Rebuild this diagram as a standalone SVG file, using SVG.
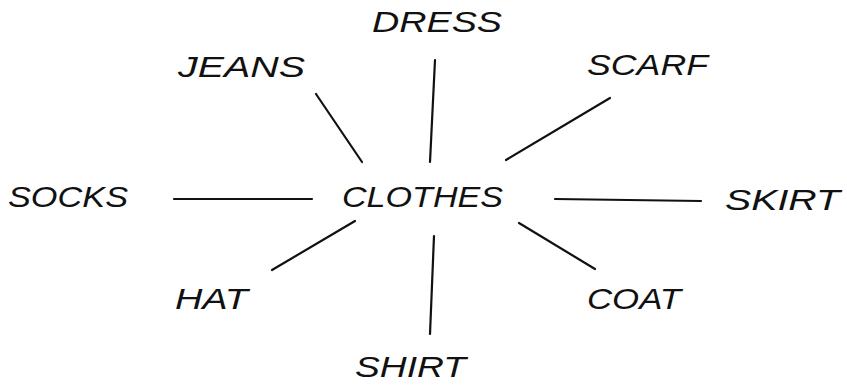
<svg xmlns="http://www.w3.org/2000/svg" width="847" height="385" viewBox="0 0 847 385">
<style>
.t{font-family:"Liberation Sans","DejaVu Sans",sans-serif;font-style:italic;font-size:30px;fill:#111}
.c line{stroke:#111;stroke-width:2.2;stroke-linecap:round}
</style>
<rect width="847" height="385" fill="#fff"/>
<g class="c" id="connectors">
<line x1="316" y1="94" x2="362" y2="162"/>
<line x1="435" y1="60" x2="430" y2="162"/>
<line x1="610" y1="98" x2="506" y2="160"/>
<line x1="174" y1="199" x2="312" y2="199"/>
<line x1="555" y1="199" x2="701" y2="201"/>
<line x1="355" y1="221" x2="272" y2="270"/>
<line x1="434" y1="236" x2="430" y2="334"/>
<line x1="519" y1="223" x2="595" y2="269"/>
</g>
<g id="clothes"><text class="t" x="342" y="207" textLength="161" lengthAdjust="spacingAndGlyphs">CLOTHES</text></g>
<g id="dress"><text class="t" x="372" y="32" textLength="130" lengthAdjust="spacingAndGlyphs">DRESS</text></g>
<g id="jeans"><text class="t" x="178" y="77" textLength="127" lengthAdjust="spacingAndGlyphs">JEANS</text></g>
<g id="scarf"><text class="t" x="587" y="75" textLength="121" lengthAdjust="spacingAndGlyphs">SCARF</text></g>
<g id="socks"><text class="t" x="8" y="207" textLength="120" lengthAdjust="spacingAndGlyphs">SOCKS</text></g>
<g id="skirt"><text class="t" x="725" y="210" textLength="115" lengthAdjust="spacingAndGlyphs">SKIRT</text></g>
<g id="hat"><text class="t" x="175" y="309" textLength="73" lengthAdjust="spacingAndGlyphs">HAT</text></g>
<g id="coat"><text class="t" x="587" y="309" textLength="94" lengthAdjust="spacingAndGlyphs">COAT</text></g>
<g id="shirt"><text class="t" x="355" y="377" textLength="111" lengthAdjust="spacingAndGlyphs">SHIRT</text></g>
</svg>
